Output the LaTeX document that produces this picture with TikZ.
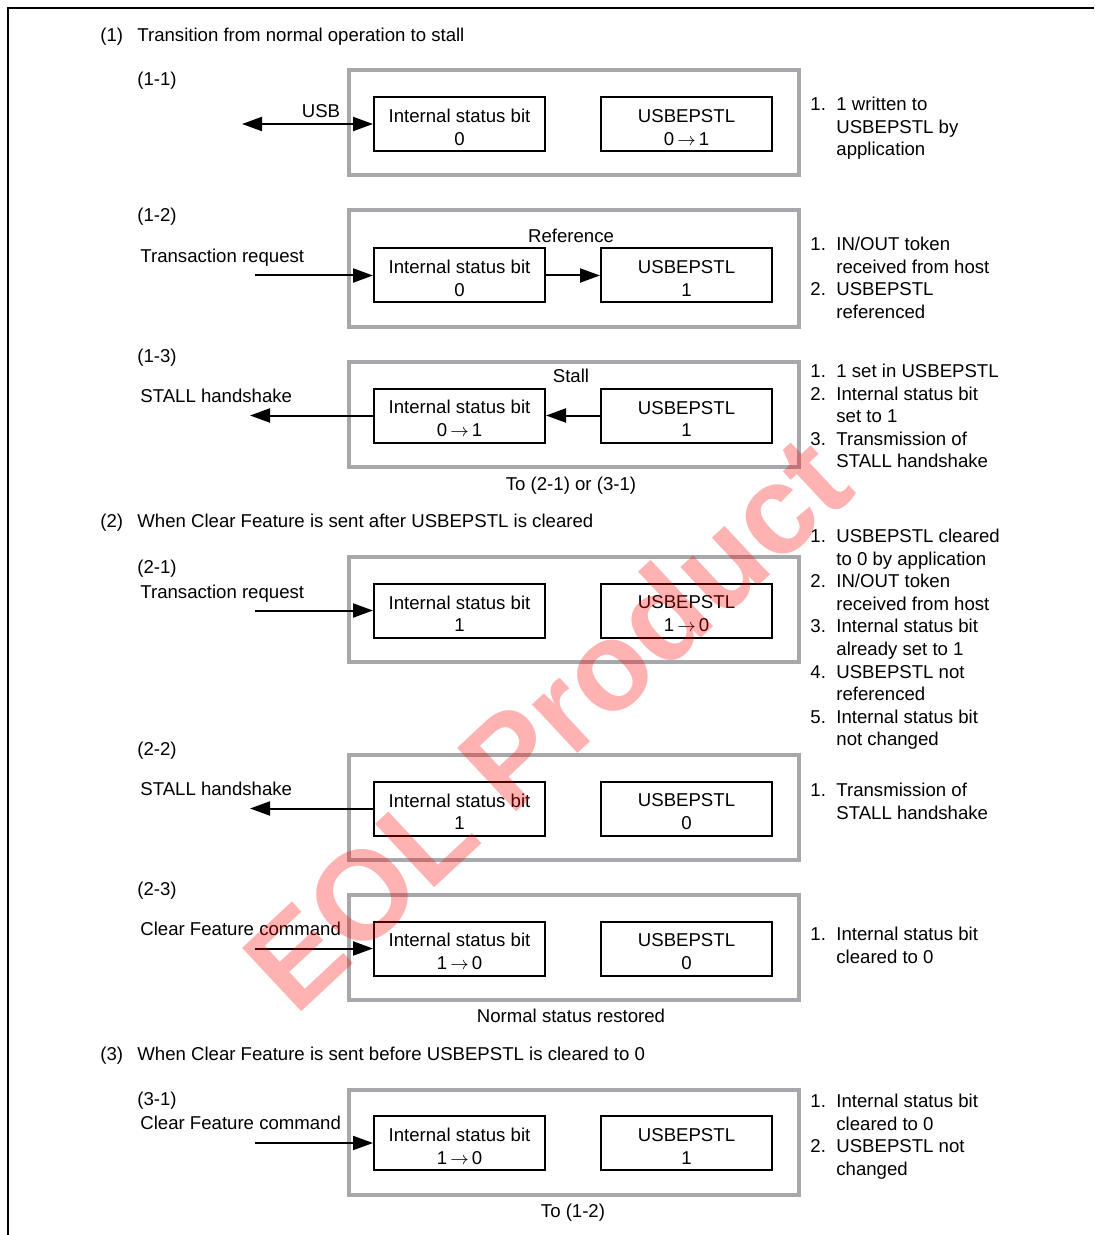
\documentclass[tikz,border=0pt]{standalone}
\usepackage{fontspec}
\setmainfont{Liberation Sans}
\usetikzlibrary{arrows.meta}

\definecolor{boxgray}{RGB}{166,168,171}
\newcommand{\itm}[1]{\makebox[13pt][l]{#1}}
\newcommand{\cnt}{\hspace*{13pt}}
\newcommand{\head}[1]{\makebox[18.5pt][l]{#1}}
\newcommand{\notes}[1]{\begin{tabular}[t]{@{}l@{}}#1\end{tabular}}
\newcommand{\bitval}[2]{\rule{0pt}{9.8pt}#1\\#2}

\begin{document}
\begin{tikzpicture}[x=0.5pt,y=-0.5pt,
	font=\fontsize{9.3}{11.3}\selectfont,
	grpbox/.style={draw=boxgray,line width=2pt,minimum width=225pt,minimum height=52.5pt,inner sep=0},
	bitbox/.style={draw,line width=1pt,minimum width=85.5pt,minimum height=27pt,inner sep=0,align=center},
	lbltext/.style={anchor=base west,inner sep=0},
	notetext/.style={anchor=base west,inner sep=0},
	sigarrow/.style={line width=1pt,-{Triangle[length=10pt,width=7pt]}},
	usbarrow/.style={line width=1pt,{Triangle[length=10pt,width=7pt]}-{Triangle[length=10pt,width=7pt]}}]
	\useasboundingbox (0,0) rectangle (1094,1235);
	\draw[line width=1pt] (1094,8) -| (8,1235);

	\node[lbltext] (h1) at (100,41.5) {\head{(1)}Transition from normal operation to stall};

	\node[lbltext] (n11) at (137,86) {(1-1)};
	\node[grpbox] (g11) at (574,123) {};
	\node[bitbox] (i11) at (459.5,124) {\bitval{Internal status bit}{0}};
	\node[bitbox] (u11) at (686.5,124) {\bitval{USBEPSTL}{0\,$\rightarrow$\,1}};
	\coordinate (usb) at (242,124);
	\draw[usbarrow] (usb) -- (i11.west);
	\node (usblbl) at (321,111) {USB};
	\node[notetext] (r11) at (810,110.5) {\notes{\itm{1.}1 written to\\\cnt USBEPSTL by\\\cnt application}};

	\node[lbltext] (n12) at (137,222) {(1-2)};
	\node[lbltext] (t12) at (140,262.5) {Transaction request};
	\node[grpbox,minimum height=58.5pt] (g12) at (574,268.5) {};
	\node (ref12) at (571,236) {Reference};
	\node[bitbox] (i12) at (459.5,275.5) {\bitval{Internal status bit}{0}};
	\node[bitbox] (u12) at (686.5,275.5) {\bitval{USBEPSTL}{1}};
	\coordinate (req12) at (255,275.5);
	\draw[sigarrow] (req12) -- (i12.west);
	\draw[sigarrow] (i12) -- (u12);
	\node[notetext] (r12) at (810,250.5) {\notes{\itm{1.}IN/OUT token\\\cnt received from host\\\itm{2.}USBEPSTL\\\cnt referenced}};

	\node[lbltext] (n13) at (137,363) {(1-3)};
	\node[lbltext] (t13) at (140,402.5) {STALL handshake};
	\node[grpbox] (g13) at (574,414.5) {};
	\node (st13) at (571,376) {Stall};
	\node[bitbox] (i13) at (459.5,415.5) {\bitval{Internal status bit}{0\,$\rightarrow$\,1}};
	\node[bitbox] (u13) at (686.5,415.5) {\bitval{USBEPSTL}{1}};
	\coordinate (hs13) at (250,415.5);
	\draw[sigarrow] (i13.west) -- (hs13);
	\draw[sigarrow] (u13) -- (i13);
	\node[notetext] (r13) at (810,377.5) {\notes{\itm{1.}1 set in USBEPSTL\\\itm{2.}Internal status bit\\\cnt set to 1\\\itm{3.}Transmission of\\\cnt STALL handshake}};
	\node (to13) at (571,486) {To (2-1) or (3-1)};

	\node[lbltext] (h2) at (100,527) {\head{(2)}When Clear Feature is sent after USBEPSTL is cleared};

	\node[lbltext] (n21) at (137,573) {(2-1)};
	\node[lbltext] (t21) at (140,598.5) {Transaction request};
	\node[grpbox] (g21) at (574,609.5) {};
	\node[bitbox] (i21) at (459.5,610.5) {\bitval{Internal status bit}{1}};
	\node[bitbox] (u21) at (686.5,610.5) {\bitval{USBEPSTL}{1\,$\rightarrow$\,0}};
	\coordinate (req21) at (255,610.5);
	\draw[sigarrow] (req21) -- (i21.west);
	\node[notetext] (r21) at (810,542.5) {\notes{\itm{1.}USBEPSTL cleared\\\cnt to 0 by application\\\itm{2.}IN/OUT token\\\cnt received from host\\\itm{3.}Internal status bit\\\cnt already set to 1\\\itm{4.}USBEPSTL not\\\cnt referenced\\\itm{5.}Internal status bit\\\cnt not changed}};

	\node[lbltext] (n22) at (137,755) {(2-2)};
	\node[lbltext] (t22) at (140,795.5) {STALL handshake};
	\node[grpbox] (g22) at (574,807.5) {};
	\node[bitbox] (i22) at (459.5,808.5) {\bitval{Internal status bit}{1}};
	\node[bitbox] (u22) at (686.5,808.5) {\bitval{USBEPSTL}{0}};
	\coordinate (hs22) at (250,808.5);
	\draw[sigarrow] (i22.west) -- (hs22);
	\node[notetext] (r22) at (810,796.5) {\notes{\itm{1.}Transmission of\\\cnt STALL handshake}};

	\node[lbltext] (n23) at (137,895) {(2-3)};
	\node[lbltext] (t23) at (140,935.5) {Clear Feature command};
	\node[grpbox] (g23) at (574,947.5) {};
	\node[bitbox] (i23) at (459.5,948.5) {\bitval{Internal status bit}{1\,$\rightarrow$\,0}};
	\node[bitbox] (u23) at (686.5,948.5) {\bitval{USBEPSTL}{0}};
	\coordinate (cf23) at (255,948.5);
	\draw[sigarrow] (cf23) -- (i23.west);
	\node[notetext] (r23) at (810,940.5) {\notes{\itm{1.}Internal status bit\\\cnt cleared to 0}};
	\node (ok23) at (571,1016) {Normal status restored};

	\node[lbltext] (h3) at (100,1060) {\head{(3)}When Clear Feature is sent before USBEPSTL is cleared to 0};

	\node[lbltext] (n31) at (137,1105) {(3-1)};
	\node[lbltext] (t31) at (140,1129.5) {Clear Feature command};
	\node[grpbox] (g31) at (574,1142.5) {};
	\node[bitbox] (i31) at (459.5,1143) {\bitval{Internal status bit}{1\,$\rightarrow$\,0}};
	\node[bitbox] (u31) at (686.5,1143) {\bitval{USBEPSTL}{1}};
	\coordinate (cf31) at (255,1143);
	\draw[sigarrow] (cf31) -- (i31.west);
	\node[notetext] (r31) at (810,1107.5) {\notes{\itm{1.}Internal status bit\\\cnt cleared to 0\\\itm{2.}USBEPSTL not\\\cnt changed}};
	\node (to31) at (573,1213) {To (1-2)};

	\node[text=red,opacity=0.3,rotate=43,font=\fontsize{63}{63}\selectfont\bfseries] (wm) at (546,722) {EOL Product};
\end{tikzpicture}
\end{document}
